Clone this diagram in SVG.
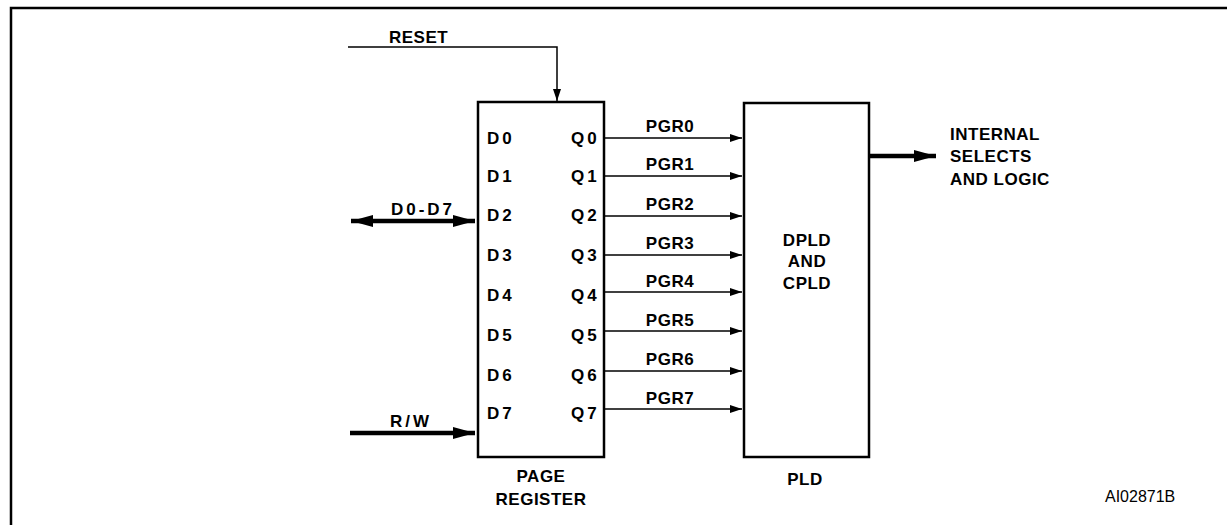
<svg xmlns="http://www.w3.org/2000/svg" width="1227" height="525" viewBox="0 0 1227 525">
<style>
.lbl{font-family:"Liberation Sans",Arial,sans-serif;font-weight:bold;font-size:17px;letter-spacing:0.5px;fill:#000}
.pin{letter-spacing:3px}
.thin{stroke:#000;stroke-width:1.5;fill:none}
.thick{stroke:#000;stroke-width:4.5;fill:none}
.box{fill:#fff;stroke:#000;stroke-width:2.5}
</style>
<defs>
<marker id="a" viewBox="0 0 12 8" refX="12" refY="4" markerWidth="12" markerHeight="8" markerUnits="userSpaceOnUse" orient="auto"><path d="M0,0L12,4L0,8z" fill="#000"/></marker>
<marker id="b" viewBox="0 0 22 12" refX="22" refY="6" markerWidth="22" markerHeight="12" markerUnits="userSpaceOnUse" orient="auto-start-reverse"><path d="M0,0L22,6L0,12z" fill="#000"/></marker>
</defs>
<rect width="1227" height="525" fill="#fff"/>
<path d="M11,525V8H1227" fill="none" stroke="#000" stroke-width="2.5"/>
<g id="connectors">
<path class="thin" d="M348,47H557V101" marker-end="url(#a)"/>
<text class="lbl" x="389" y="43">RESET</text>
<path class="thick" d="M351,221H475" marker-start="url(#b)" marker-end="url(#b)"/>
<text class="lbl pin" x="423" y="215" text-anchor="middle">D0-D7</text>
<path class="thick" d="M350,433H475" marker-end="url(#b)"/>
<text class="lbl pin" x="411" y="427" text-anchor="middle">R/W</text>
<path class="thin" d="M605,138H742" marker-end="url(#a)"/>
<path class="thin" d="M605,176H742" marker-end="url(#a)"/>
<path class="thin" d="M605,216H742" marker-end="url(#a)"/>
<path class="thin" d="M605,255H742" marker-end="url(#a)"/>
<path class="thin" d="M605,292H742" marker-end="url(#a)"/>
<path class="thin" d="M605,331H742" marker-end="url(#a)"/>
<path class="thin" d="M605,371H742" marker-end="url(#a)"/>
<path class="thin" d="M605,409H742" marker-end="url(#a)"/>
<g class="lbl" text-anchor="middle">
<text x="670" y="132">PGR0</text>
<text x="670" y="170">PGR1</text>
<text x="670" y="210">PGR2</text>
<text x="670" y="249">PGR3</text>
<text x="670" y="287">PGR4</text>
<text x="670" y="326">PGR5</text>
<text x="670" y="365">PGR6</text>
<text x="670" y="404">PGR7</text>
</g>
<path class="thick" d="M870,156H936" marker-end="url(#b)"/>
</g>
<g id="page-register">
<rect class="box" x="478" y="102" width="126" height="355"/>
<g class="lbl pin">
<text x="487" y="144">D0</text><text x="571" y="144">Q0</text>
<text x="487" y="182">D1</text><text x="571" y="182">Q1</text>
<text x="487" y="221">D2</text><text x="571" y="221">Q2</text>
<text x="487" y="261">D3</text><text x="571" y="261">Q3</text>
<text x="487" y="301">D4</text><text x="571" y="301">Q4</text>
<text x="487" y="341">D5</text><text x="571" y="341">Q5</text>
<text x="487" y="381">D6</text><text x="571" y="381">Q6</text>
<text x="487" y="419">D7</text><text x="571" y="419">Q7</text>
</g>
<text class="lbl" x="541" y="482" text-anchor="middle">PAGE</text>
<text class="lbl" x="541" y="505" text-anchor="middle">REGISTER</text>
</g>
<g id="pld">
<rect class="box" x="744" y="103" width="125" height="354"/>
<text class="lbl" x="807" y="246" text-anchor="middle">DPLD</text>
<text class="lbl" x="807" y="267" text-anchor="middle">AND</text>
<text class="lbl" x="807" y="289" text-anchor="middle">CPLD</text>
<text class="lbl" x="805" y="485" text-anchor="middle">PLD</text>
</g>
<g id="output">
<text class="lbl" x="950" y="140">INTERNAL</text>
<text class="lbl" x="950" y="162">SELECTS</text>
<text class="lbl" x="950" y="185">AND LOGIC</text>
</g>
<text x="1105" y="502" font-family="Liberation Sans,Arial,sans-serif" font-size="16" fill="#000">AI02871B</text>
</svg>
